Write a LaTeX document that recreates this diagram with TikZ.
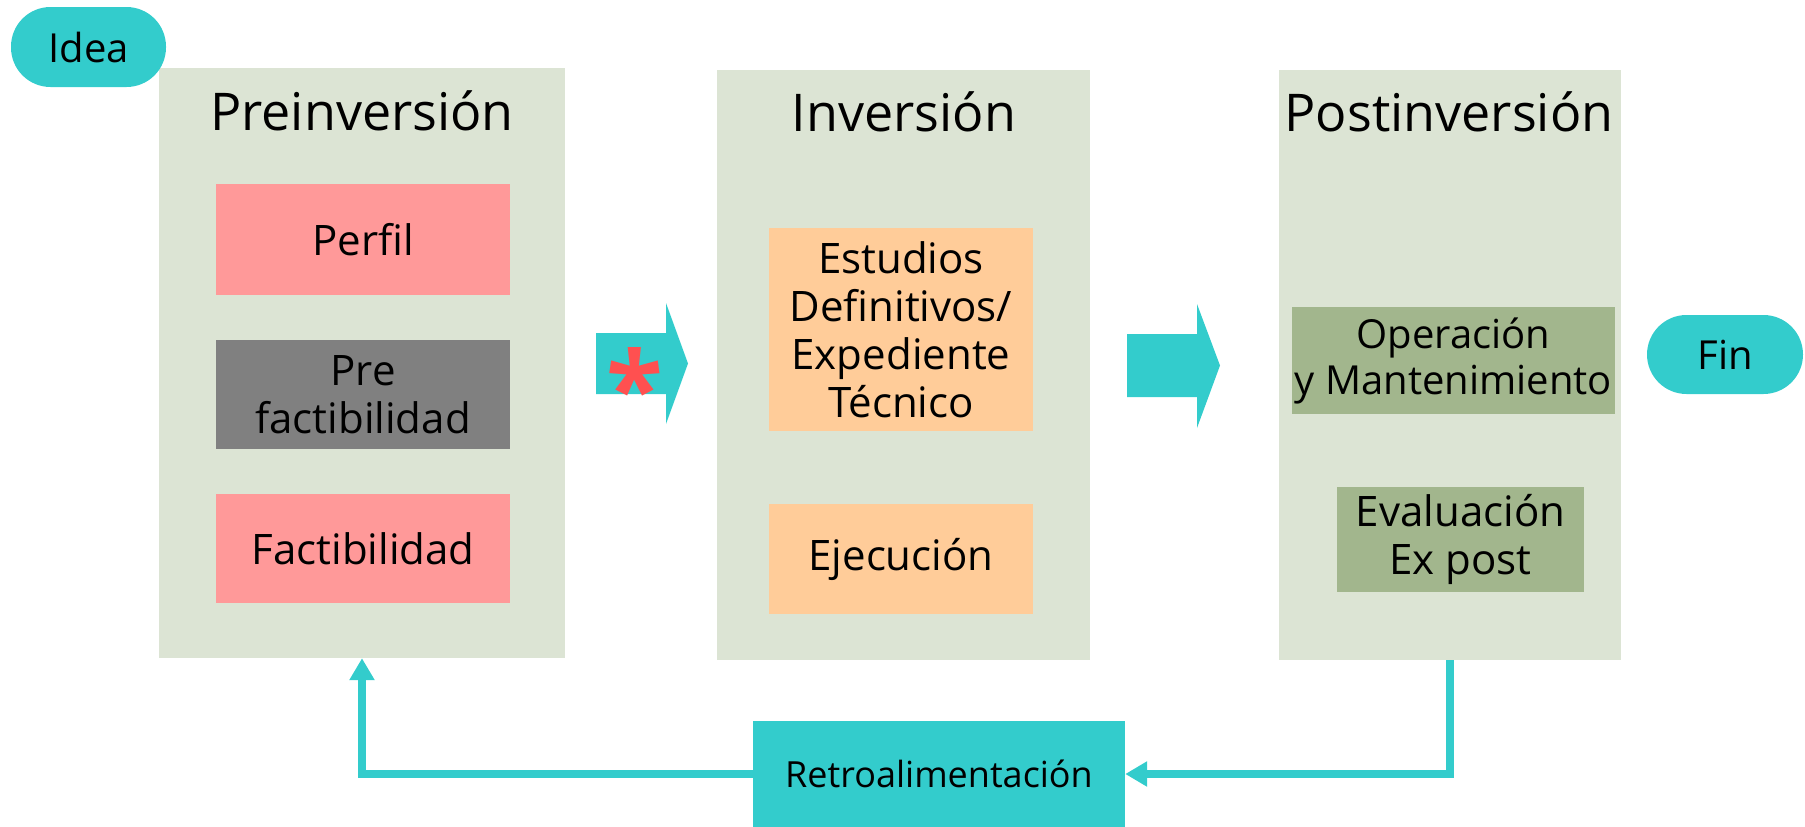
\documentclass[tikz,border=0pt]{standalone}
\usepackage{fontspec}
\setmainfont{Open Sans}
\usetikzlibrary{arrows.meta}
\definecolor{teal}{HTML}{33CCCC}
\definecolor{stagebg}{HTML}{DCE4D4}
\definecolor{pinkbox}{HTML}{FF9999}
\definecolor{graybox}{HTML}{808080}
\definecolor{orangebox}{HTML}{FFCC99}
\definecolor{olivebox}{HTML}{A2B68D}
\definecolor{starred}{HTML}{FF5050}
\begin{document}
\begin{tikzpicture}[x=1pt,y=-1pt,
  stage/.style={fill=stagebg, draw=none, inner sep=0pt},
  item/.style={draw=none, inner sep=0pt, align=center, font=\fontsize{42}{48}\selectfont},
  pill/.style={fill=teal, draw=none, inner sep=0pt, rounded corners=39.5pt, font=\fontsize{40}{48}\selectfont},
  title/.style={anchor=base, inner sep=0pt, font=\fontsize{52}{60}\selectfont},
  fb/.style={draw=teal, line width=8pt, -{Triangle[length=22pt,width=24pt]}},
  blockarrow/.style={fill=teal, draw=none}
]
\useasboundingbox (0,0) rectangle (1805,827);

% stage backgrounds
\node[stage, minimum width=406pt, minimum height=590pt] (pre) at (362,363) {};
\node[stage, minimum width=373pt, minimum height=590pt] (inv) at (903.5,365) {};
\node[stage, minimum width=342pt, minimum height=590pt] (post) at (1450,365) {};

% titles
\node[title] (tpre) at (362,130) {Preinversión};
\node[title] (tinv) at (904,131) {Inversión};
\node[title] (tpost) at (1449,131) {Postinversión};

% items
\node[item, fill=pinkbox, minimum width=294pt, minimum height=111pt] (perfil) at (363,239.5) {Perfil};
\node[item, fill=graybox, minimum width=294pt, minimum height=109pt] (prefac) at (363,394.5) {Pre\\factibilidad};
\node[item, fill=pinkbox, minimum width=294pt, minimum height=109pt] (fac) at (363,548.5) {Factibilidad};

\node[item, fill=orangebox, minimum width=264pt, minimum height=203pt] (estudios) at (901,329.5) {Estudios\\Definitivos/\\Expediente\\Técnico};
\node[item, fill=orangebox, minimum width=264pt, minimum height=110pt] (ejec) at (901,559) {Ejecución};

\node[item, fill=olivebox, minimum width=323pt, minimum height=107pt, font=\fontsize{40}{46}\selectfont] (oper) at (1453.5,360.5) {Operación\\y Mantenimiento};
\node[item, fill=olivebox, minimum width=247pt, minimum height=105pt] (eval) at (1460.5,539.5) {Evaluación\\Ex post};

% start / end
\node[pill, minimum width=155pt, minimum height=80pt] (idea) at (88.5,47) {Idea};
\node[pill, minimum width=156pt, minimum height=79pt] (fin) at (1725,354.5) {Fin};

% block arrows
\fill[blockarrow] (596,333) -- (666,333) -- (666,303) -- (688,363.5) -- (666,424) -- (666,394) -- (596,394) -- cycle;
\fill[blockarrow] (1127,334) -- (1197,334) -- (1197,304) -- (1220,365.5) -- (1197,428) -- (1197,397) -- (1127,397) -- cycle;
\node[anchor=north, inner sep=0pt, text=starred, font=\fontsize{104}{104}\selectfont\bfseries] (star) at (635,347) {*};

% feedback
\node[fill=teal, draw=none, inner sep=0pt, minimum width=372pt, minimum height=106pt, font=\fontsize{36}{42}\selectfont] (retro) at (939,774) {Retroalimentación};
\draw[fb] (post.south) |- (retro.east);
\draw[fb] (retro.west) -| (pre.south);
\end{tikzpicture}
\end{document}
